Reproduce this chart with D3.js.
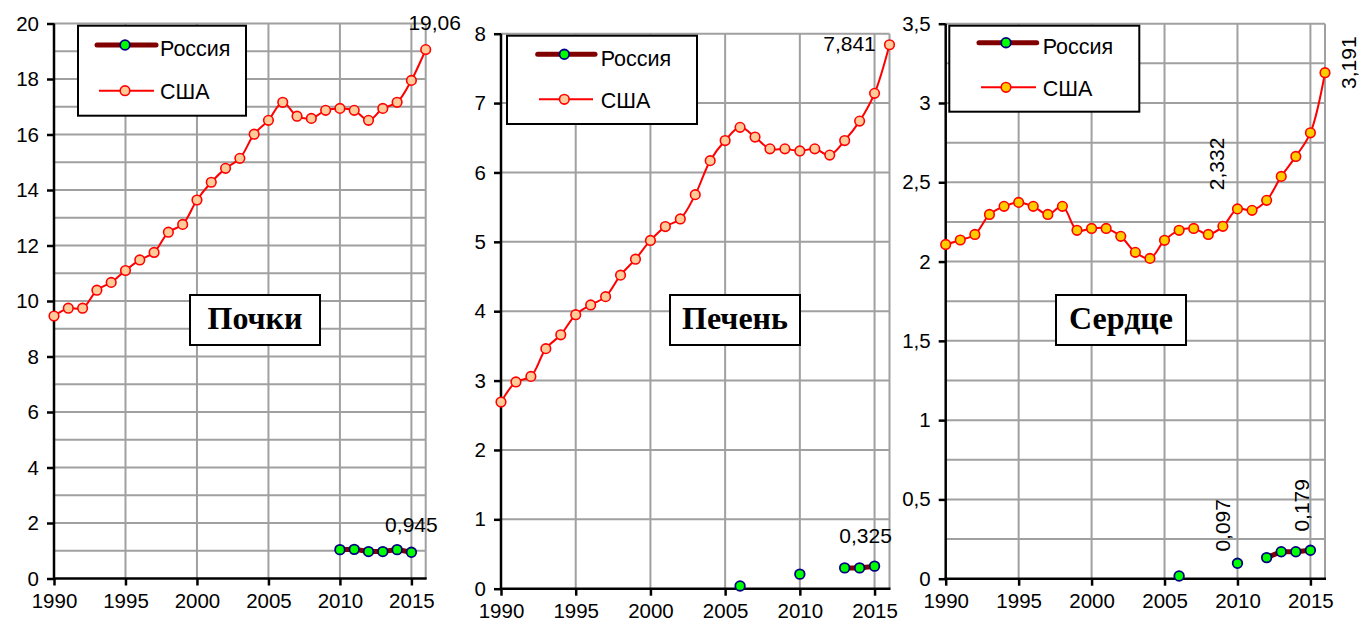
<!DOCTYPE html>
<html><head><meta charset="utf-8">
<script src="https://cdn.jsdelivr.net/npm/d3@7"></script>
<style>body{margin:0;background:#fff}svg{display:block}</style>
</head><body>
<svg id="c" width="1361" height="623"></svg>
<script>
// ---------- DATA ----------
const years = [1990,1991,1992,1993,1994,1995,1996,1997,1998,1999,2000,2001,2002,2003,2004,2005,2006,2007,2008,2009,2010,2011,2012,2013,2014,2015,2016];
const xTickYears = [1990,1995,2000,2005,2010,2015];
const titles = ["Почки","Печень","Сердце"];
const legendNames = ["Россия","США"];

const usaKidney = [9.46,9.74,9.74,10.39,10.67,11.10,11.48,11.75,12.48,12.76,13.64,14.28,14.78,15.14,16.01,16.51,17.16,16.66,16.58,16.87,16.94,16.87,16.51,16.94,17.16,17.95,19.06];
const usaLiver  = [2.69,2.98,3.06,3.46,3.66,3.95,4.09,4.21,4.52,4.75,5.02,5.22,5.33,5.68,6.17,6.46,6.65,6.51,6.34,6.34,6.31,6.34,6.25,6.46,6.74,7.14,7.841];
const usaHeart  = [2.108,2.136,2.171,2.297,2.348,2.373,2.348,2.297,2.348,2.197,2.209,2.209,2.159,2.058,2.020,2.134,2.197,2.209,2.171,2.222,2.332,2.323,2.386,2.537,2.663,2.812,3.191];

const rusKidneyYears = [2010,2011,2012,2013,2014,2015];
const rusKidney      = [1.04,1.05,0.97,0.97,1.04,0.945];
const rusLiverYears  = [2006,2010,2013,2014,2015];
const rusLiver       = [0.04,0.21,0.30,0.30,0.325];
const rusHeartYears  = [2006,2010,2012,2013,2014,2015];
const rusHeart       = [0.017,0.097,0.133,0.17,0.17,0.179];

const kidneyYTicks = [0,2,4,6,8,10,12,14,16,18,20];
const liverYTicks  = [0,1,2,3,4,5,6,7,8];
const heartYTicks  = [0,0.5,1,1.5,2,2.5,3,3.5];

// ---------- LAYOUT ----------
const panels = [
  {title:titles[0], usa:usaKidney, rusYears:rusKidneyYears, rus:rusKidney, yTicks:kidneyYTicks, gridStep:1, yMax:20,
   usaFill:"#FFCC99",
   x0:54, x1:425.7, yTop:23.5, yBot:578.5,
   leg:{x:78,y:25.7,w:168,h:90, rY:19.3,uY:65, mX:47, rl:[19,78], ul:[21,76], tX:82, rB:30.5, uB:73.5},
   box:{x:190,y:295,w:130,h:50},
   labels:[{s:"usa",year:2016,text:"19,06",dx:9,dy:-27,rot:false},
           {s:"rus",year:2015,text:"0,945",dx:0,dy:-28,rot:false}]},
  {title:titles[1], usa:usaLiver, rusYears:rusLiverYears, rus:rusLiver, yTicks:liverYTicks, gridStep:1, yMax:8,
   usaFill:"#FFCC99",
   x0:501, x1:889.5, yTop:33.7, yBot:588.7,
   leg:{x:507,y:35.7,w:190,h:88.3, rY:18.6,uY:63.6, mX:57.3, rl:[30.7,88], ul:[32,86], tX:93.7, rB:30,uB:72},
   box:{x:670,y:295,w:130,h:50},
   labels:[{s:"usa",year:2016,text:"7,841",dx:-40,dy:-1,rot:false},
           {s:"rus",year:2015,text:"0,325",dx:-9,dy:-31,rot:false}]},
  {title:titles[2], usa:usaHeart, rusYears:rusHeartYears, rus:rusHeart, yTicks:heartYTicks, gridStep:0.25, yMax:3.5,
   usaFill:"#FFCC00",
   x0:945.7, x1:1325, yTop:23.7, yBot:578.7,
   leg:{x:949.3,y:25.7,w:190,h:86, rY:17,uY:61.6, mX:56.7, rl:[29.7,87.4], ul:[31.7,86.7], tX:93.4, rB:28.5,uB:70},
   box:{x:1056,y:295,w:130,h:50},
   labels:[{s:"usa",year:2016,text:"3,191",dx:23,dy:-10,rot:true},
           {s:"usa",year:2010,text:"2,332",dx:-21,dy:-45,rot:true},
           {s:"rus",year:2010,text:"0,097",dx:-15,dy:-38,rot:true},
           {s:"rus",year:2015,text:"0,179",dx:-9,dy:-45,rot:true}]}
];

const FONT = "Arial, 'Liberation Sans', sans-serif";
const fmt = d3.formatLocale({decimal:",",thousands:"\u00a0",grouping:[3],currency:["",""]}).format("~g");
const svg = d3.select("#c");

panels.forEach(p => {
  const x = d3.scaleLinear().domain([1990,2016]).range([p.x0,p.x1]);
  const y = d3.scaleLinear().domain([0,p.yMax]).range([p.yBot,p.yTop]);
  const g = svg.append("g");

  // grid
  const gridVals = d3.range(p.gridStep, p.yMax + 1e-9, p.gridStep);
  g.selectAll(".hg").data(gridVals).join("line")
    .attr("x1",p.x0).attr("x2",p.x1).attr("y1",d=>y(d)).attr("y2",d=>y(d))
    .attr("stroke","#a0a0a0").attr("stroke-width",2);
  g.selectAll(".vg").data(xTickYears.slice(1).concat([2016])).join("line")
    .attr("x1",d=>x(d)).attr("x2",d=>x(d)).attr("y1",p.yTop).attr("y2",p.yBot)
    .attr("stroke","#a0a0a0").attr("stroke-width",2);

  // axes
  const yAxis = d3.axisLeft(y).tickValues(p.yTicks).tickSize(7).tickPadding(8).tickFormat(fmt);
  const ya = g.append("g").attr("transform",`translate(${p.x0},0)`).call(yAxis);
  const xAxis = d3.axisBottom(x).tickValues(xTickYears).tickSize(7).tickPadding(8).tickFormat(d3.format("d"));
  const xa = g.append("g").attr("transform",`translate(0,${p.yBot})`).call(xAxis);
  [ya,xa].forEach(a=>{
    a.select(".domain").remove();
    a.selectAll(".tick line").attr("stroke","#000").attr("stroke-width",2.5);
    a.selectAll(".tick text").attr("fill","#000").style("font-family",FONT).style("font-size","20.5px");
  });
  g.append("line").attr("x1",p.x0).attr("x2",p.x0).attr("y1",p.yTop).attr("y2",p.yBot+1)
    .attr("stroke","#000").attr("stroke-width",2.5);
  g.append("line").attr("x1",p.x0-1).attr("x2",p.x1+1).attr("y1",p.yBot).attr("y2",p.yBot)
    .attr("stroke","#000").attr("stroke-width",2.5);

  // USA series
  const usaData = years.map((yr,i)=>({year:yr,v:p.usa[i]}));
  const usaLine = d3.line().x(d=>x(d.year)).y(d=>y(d.v)).curve(d3.curveCatmullRom.alpha(0.5));
  g.append("path").attr("d",usaLine(usaData)).attr("fill","none").attr("stroke","#FF0000").attr("stroke-width",2);
  g.selectAll(".um").data(usaData).join("circle")
    .attr("cx",d=>x(d.year)).attr("cy",d=>y(d.v)).attr("r",4.8)
    .attr("fill",p.usaFill).attr("stroke","#FF0000").attr("stroke-width",1.6);

  // Russia series (gaps where no data)
  const rusMap = new Map(p.rusYears.map((yr,i)=>[yr,p.rus[i]]));
  const rusFull = years.map(yr=>({year:yr,v:rusMap.has(yr)?rusMap.get(yr):null}));
  const rusLine = d3.line().defined(d=>d.v!==null).x(d=>x(d.year)).y(d=>y(d.v));
  g.append("path").attr("d",rusLine(rusFull)).attr("fill","none").attr("stroke","#800000").attr("stroke-width",5);
  const rusData = p.rusYears.map((yr,i)=>({year:yr,v:p.rus[i]}));
  g.selectAll(".rm").data(rusData).join("circle")
    .attr("cx",d=>x(d.year)).attr("cy",d=>y(d.v)).attr("r",4.8)
    .attr("fill","#00FF00").attr("stroke","#000080").attr("stroke-width",1.8);

  // data labels
  p.labels.forEach(l=>{
    const v = l.s==="usa" ? p.usa[years.indexOf(l.year)] : p.rus[p.rusYears.indexOf(l.year)];
    const cx = x(l.year)+l.dx, cy = y(v)+l.dy;
    g.append("text").attr("transform",`translate(${cx},${cy})${l.rot?" rotate(-90)":""}`)
      .attr("text-anchor","middle").attr("dy","0.36em")
      .style("font-family",FONT).style("font-size","21px").attr("fill","#000").text(l.text);
  });

  // title box
  g.append("rect").attr("x",p.box.x).attr("y",p.box.y).attr("width",p.box.w).attr("height",p.box.h)
    .attr("fill","#fff").attr("stroke","#000").attr("stroke-width",2);
  g.append("text").attr("x",p.box.x+p.box.w/2).attr("y",p.box.y+34).attr("text-anchor","middle")
    .style("font-family","'Times New Roman','Liberation Serif',serif").style("font-weight","bold").style("font-size","32px")
    .text(p.title);

  // legend
  const L = p.leg;
  const lg = g.append("g").attr("transform",`translate(${L.x},${L.y})`);
  lg.append("rect").attr("width",L.w).attr("height",L.h).attr("fill","#fff").attr("stroke","#000").attr("stroke-width",2);
  lg.append("line").attr("x1",L.rl[0]).attr("x2",L.rl[1]).attr("y1",L.rY).attr("y2",L.rY)
    .attr("stroke","#800000").attr("stroke-width",5).attr("stroke-linecap","round");
  lg.append("circle").attr("cx",L.mX).attr("cy",L.rY).attr("r",4.8).attr("fill","#00FF00").attr("stroke","#000080").attr("stroke-width",1.8);
  lg.append("line").attr("x1",L.ul[0]).attr("x2",L.ul[1]).attr("y1",L.uY).attr("y2",L.uY)
    .attr("stroke","#FF0000").attr("stroke-width",2);
  lg.append("circle").attr("cx",L.mX).attr("cy",L.uY).attr("r",4.8).attr("fill",p.usaFill).attr("stroke","#FF0000").attr("stroke-width",1.6);
  lg.append("text").attr("x",L.tX).attr("y",L.rB).style("font-family",FONT).style("font-size","21.5px").text(legendNames[0]);
  lg.append("text").attr("x",L.tX).attr("y",L.uB).style("font-family",FONT).style("font-size","21.5px").text(legendNames[1]);
});
</script>
</body></html>
